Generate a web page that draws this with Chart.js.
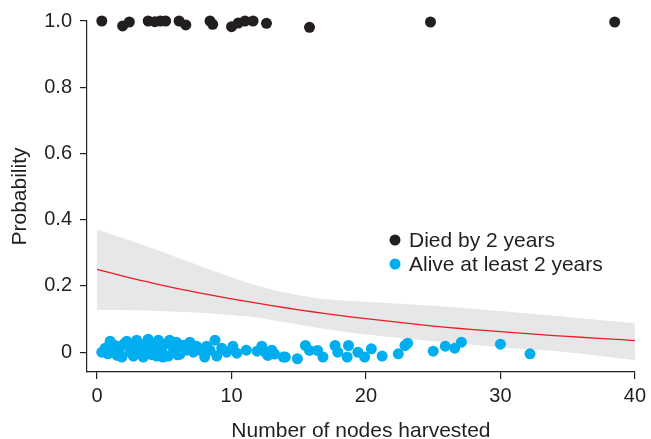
<!DOCTYPE html>
<html>
<head>
<meta charset="UTF-8">
<title>Probability vs nodes harvested</title>
<script src="https://cdn.jsdelivr.net/npm/chart.js@4/dist/chart.umd.min.js"></script>
<style>
  html, body { margin: 0; padding: 0; background: #ffffff; }
  #wrap { width: 651px; height: 439px; position: relative; }
</style>
</head>
<body>
<div id="wrap"><canvas id="miCanvas"></canvas></div>
<script>
// points (x = nodes harvested, y = jittered outcome)
const diedX = [0.35, 1.9, 2.4, 3.8, 4.3, 4.7, 5.1, 6.1, 6.6, 8.4, 8.6, 10.0, 10.5, 11.0, 11.6, 12.6, 15.8, 24.8, 38.5];
const diedY = [1.0, 0.985, 0.997, 1.0, 0.998, 1.0, 1.0, 1.0, 0.988, 1.0, 0.99, 0.983, 0.994, 1.0, 1.0, 0.993, 0.981, 0.997, 0.997];

const aliveX = [0.35, 0.6, 0.8, 0.97, 1.2, 1.34, 1.5, 1.7, 1.84, 2.0, 2.2, 2.45, 2.6, 2.7, 2.95, 3.1, 3.2, 3.44, 3.6, 3.8,
  3.9, 4.1, 4.2, 4.44, 4.56, 4.8, 4.9, 5.05, 5.3, 5.4, 5.67, 5.9, 6.0, 6.17, 6.4, 6.67, 6.9, 7.16, 7.4, 7.66,
  8.0, 8.15, 8.4, 8.77, 8.9, 9.27, 9.64, 10.1, 10.4, 11.1, 11.9, 12.25, 12.5, 12.7, 13.0, 13.2, 13.85, 14.0, 14.9, 15.5,
  15.8, 16.4, 16.8, 17.7, 17.9, 18.6, 18.7, 19.4, 19.9, 20.4, 21.2, 22.4, 22.9, 23.1, 25.0, 25.9, 26.6, 27.1, 30.0, 32.2];
const aliveY = [0.0, 0.012, -0.005, 0.033, 0.005, 0.02, -0.01, 0.012, -0.015, 0.025, 0.033, 0.0, 0.015, -0.012, 0.036, 0.005, 0.012, -0.015, 0.025, 0.039,
  0.0, -0.008, 0.018, -0.012, 0.036, 0.006, -0.015, 0.024, -0.012, 0.036, 0.012, 0.03, -0.008, -0.006, 0.021, 0.006, 0.03, 0.0, 0.018, 0.006,
  -0.015, 0.018, 0.006, 0.036, -0.012, 0.012, 0.0, 0.018, -0.003, 0.006, 0.003, 0.018, 0.0, -0.01, 0.006, -0.006, -0.015, -0.015, -0.02, 0.02,
  0.005, 0.005, -0.015, 0.02, 0.0, -0.015, 0.02, 0.0, -0.015, 0.01, -0.012, -0.005, 0.02, 0.027, 0.003, 0.018, 0.012, 0.03, 0.024, -0.005];

// fitted curve and its band
const fitX = [0, 2, 4, 6, 8, 10, 12, 14, 16, 18, 20, 22, 24, 26, 28, 30, 32, 34, 36, 38, 40];
const fitY = [0.25, 0.229, 0.21, 0.192, 0.176, 0.161, 0.147, 0.134, 0.122, 0.111, 0.101, 0.092, 0.083, 0.075, 0.068, 0.062, 0.056, 0.05, 0.045, 0.04, 0.035];

const bandX = [0, 4, 8, 11, 12, 14, 16, 17, 20, 25, 30, 35, 40];
const bandUpper = [0.37, 0.315, 0.255, 0.212, 0.2, 0.18, 0.165, 0.16, 0.152, 0.14, 0.124, 0.106, 0.087];
const bandLower = [0.127, 0.125, 0.118, 0.108, 0.104, 0.09, 0.076, 0.07, 0.053, 0.033, 0.015, 0.0, -0.024];

const xTicks = [0, 10, 20, 30, 40];
const yTicks = [0, 0.2, 0.4, 0.6, 0.8, 1.0];
const yTickLabels = ['0', '0.2', '0.4', '0.6', '0.8', '1.0'];

const ink = '#231f20';
const FONT = "'Liberation Sans', Arial, Helvetica, sans-serif";

const pts = (xs, ys) => xs.map((x, i) => ({x: x, y: ys[i]}));

const legendBox = {
  id: 'legendBox',
  afterDraw(chart) {
    const ctx = chart.ctx;
    const items = [chart.data.datasets[0], chart.data.datasets[1]];
    const x0 = chart.chartArea.left + 308;
    const y0 = chart.chartArea.top + 219;
    ctx.save();
    ctx.font = '21px ' + FONT;
    ctx.textBaseline = 'middle';
    items.forEach((ds, i) => {
      const y = y0 + i * 24;
      ctx.beginPath();
      ctx.fillStyle = ds.backgroundColor;
      ctx.arc(x0, y, 5.5, 0, Math.PI * 2);
      ctx.fill();
      ctx.fillStyle = ink;
      ctx.fillText(ds.label, x0 + 14, y + 1);
    });
    ctx.restore();
  }
};

new Chart(document.getElementById('miCanvas'), {
  type: 'scatter',
  data: {
    datasets: [
      {label: 'Died by 2 years', data: pts(diedX, diedY), backgroundColor: ink, borderWidth: 0, pointRadius: 5.5, clip: false, order: 0},
      {label: 'Alive at least 2 years', data: pts(aliveX, aliveY), backgroundColor: '#00aeef', borderWidth: 0, pointRadius: 5.5, clip: false, order: 1},
      {type: 'line', label: 'fit', data: pts(fitX, fitY), borderColor: '#ed1c24', borderWidth: 1.3, pointRadius: 0, tension: 0.4, fill: false, order: 2},
      {type: 'line', label: 'upper', data: pts(bandX, bandUpper), borderWidth: 0, borderColor: 'rgba(0,0,0,0)', pointRadius: 0, tension: 0.3, fill: '+1', backgroundColor: '#e6e7e8', order: 3},
      {type: 'line', label: 'lower', data: pts(bandX, bandLower), borderWidth: 0, borderColor: 'rgba(0,0,0,0)', pointRadius: 0, tension: 0.3, fill: false, order: 4}
    ]
  },
  options: {
    responsive: true,
    maintainAspectRatio: false,
    animation: false,
    layout: {padding: {left: 0, right: 16, top: 21, bottom: 0}},
    plugins: {legend: {display: false}, tooltip: {enabled: false}},
    scales: {
      x: {
        type: 'linear', min: -0.75, max: 40,
        afterBuildTicks: (s) => { s.ticks = xTicks.map(v => ({value: v})); },
        afterFit: (s) => { s.height = 67; },
        grid: {drawOnChartArea: false, drawTicks: true, tickLength: 7, color: ink, lineWidth: 1.2},
        border: {display: true, color: ink, width: 1.2},
        ticks: {color: ink, font: {family: FONT, size: 20}, padding: 5, maxRotation: 0},
        title: {display: true, text: 'Number of nodes harvested', color: ink, font: {family: FONT, size: 21, lineHeight: 1}, padding: {top: 0, bottom: -3}}
      },
      y: {
        type: 'linear', min: -0.06, max: 1.0,
        afterBuildTicks: (s) => { s.ticks = yTicks.map(v => ({value: v})); },
        afterFit: (s) => { s.width = 87; },
        grid: {drawOnChartArea: false, drawTicks: true, tickLength: 7, color: ink, lineWidth: 1.2},
        border: {display: true, color: ink, width: 1.2},
        ticks: {color: ink, font: {family: FONT, size: 20}, padding: 8, callback: (v) => yTickLabels[yTicks.indexOf(v)]},
        title: {display: true, text: 'Probability', color: ink, font: {family: FONT, size: 21, lineHeight: 1}, padding: {top: 10}}
      }
    }
  },
  plugins: [legendBox]
});
</script>
</body>
</html>
